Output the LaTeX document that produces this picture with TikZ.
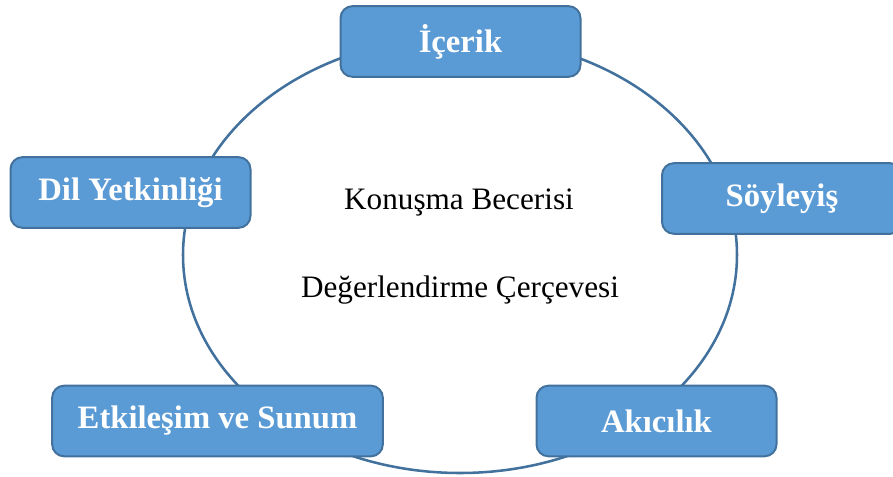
\documentclass[tikz,border=0pt]{standalone}
\usepackage{fontspec}
\setmainfont{Liberation Serif}
\definecolor{boxfill}{HTML}{5B9BD5}
\definecolor{boxline}{HTML}{41719C}
\begin{document}
\begin{tikzpicture}[x=0.75pt, y=-0.75pt,
    criterion/.style={draw=boxline, line width=1.5pt, fill=boxfill, rounded corners=9pt,
      text=white, font=\fontsize{24.5}{28}\selectfont\bfseries,
      minimum width=180pt, minimum height=53pt},
    caption/.style={anchor=base, font=\fontsize{23.4}{28}\selectfont}]
    \clip (0,0) rectangle (893,477);

    % Frame ellipse
    \draw[boxline, line width=1.9pt] (460,255) ellipse [x radius=207.75pt, y radius=163.5pt];

    % Centre text
    \node[caption] (title1) at (459,210) {Konuşma Becerisi};
    \node[caption] (title2) at (460,298) {Değerlendirme Çerçevesi};

    % Criteria boxes
    \node[criterion] (icerik) at (460.5,41.5) {İçerik};
    \node[criterion] (soyleyis) at (782,198.5) {Söyleyiş};
    \node[criterion] (dil) at (130.5,192.5) {Dil Yetkinliği};
    \node[criterion, minimum width=248pt] (etkilesim) at (217.5,421) {Etkileşim ve Sunum};
    \node[criterion] (akicilik) at (656.5,421) {Akıcılık};
\end{tikzpicture}
\end{document}
